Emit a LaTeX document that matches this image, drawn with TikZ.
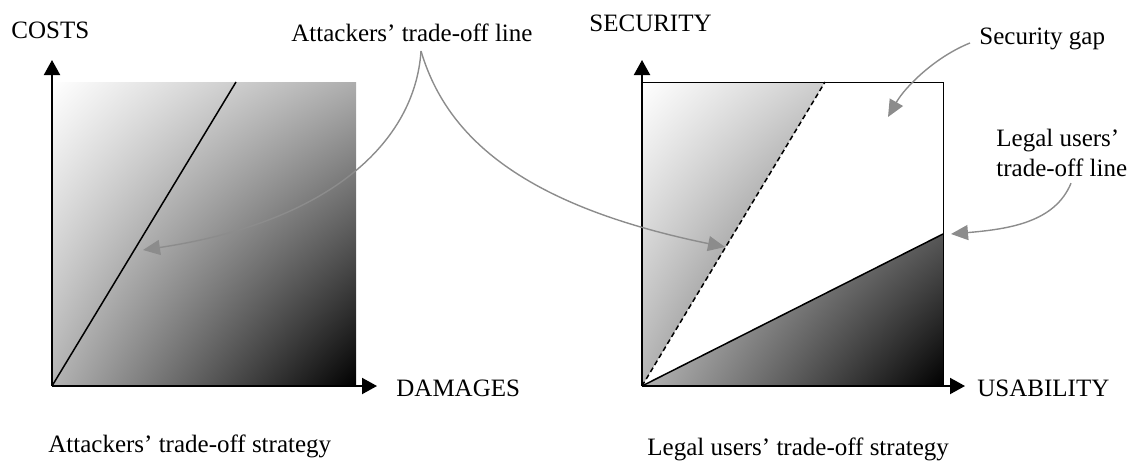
\documentclass[tikz,border=0pt]{standalone}
\usepackage{fontspec}
\setmainfont{Liberation Serif}
\usetikzlibrary{arrows.meta,shadings}

\begin{document}
\begin{tikzpicture}[x=0.5pt,y=0.5pt,
      axis/.style={line width=1pt,-{Triangle[length=7.5pt,width=8pt]}},
      pointer/.style={draw=black!45,line width=0.7pt,-{Triangle[length=8.5pt,width=7.5pt]}},
      label/.style={inner sep=0pt,anchor=west,font=\fontsize{12.5}{15}\selectfont},
      corners/.style={upper left=white,upper right=black!32,lower left=black!30,lower right=black},
      tradeline/.style={line width=0.75pt},
      dashline/.style={line width=0.75pt,dash pattern=on 2.5pt off 1.6pt}]
  \useasboundingbox (0,0) rectangle (1133,462);

  % attackers
  \coordinate (lo) at (52,76);
  \coordinate (ly) at (52,402);
  \coordinate (lx) at (377,76);
  \coordinate (ltop) at (236,380);
  \shade[corners] (lo) rectangle (356,380);
  \draw[tradeline] (lo) -- (ltop);
  \draw[axis] (lo) -- (ly);
  \draw[axis] (lo) -- (lx);

  % legal users
  \coordinate (ro) at (642,76);
  \coordinate (ry) at (642,402);
  \coordinate (rx) at (965,76);
  \coordinate (rtl) at (642,380);
  \coordinate (rbr) at (943,76);
  \coordinate (dtop) at (825,380);
  \coordinate (uend) at (943,228);
  \begin{scope}
    \clip (ro) -- (rtl) -- (dtop) -- cycle;
    \shade[corners] (ro) rectangle (943,380);
  \end{scope}
  \begin{scope}
    \clip (ro) -- (rbr) -- (uend) -- cycle;
    \shade[corners] (ro) rectangle (943,380);
  \end{scope}
  \draw[line width=0.5pt] (ro) rectangle (943,380);
  \draw[dashline] (ro) -- (dtop);
  \draw[tradeline] (ro) -- (uend);
  \draw[axis] (ro) -- (ry);
  \draw[axis] (ro) -- (rx);

  % labels
  \node[label] (costs) at (11,432) {COSTS};
  \node[label] (damages) at (396,74) {DAMAGES};
  \node[label] (astrat) at (48,16) {Attackers’ trade-off strategy};
  \node[label] (security) at (589,439) {SECURITY};
  \node[label] (usability) at (977,74) {USABILITY};
  \node[label] (ustrat) at (647,13) {Legal users’ trade-off strategy};
  \node[label] (aline) at (291,429) {Attackers’ trade-off line};
  \node[label] (gap) at (979,423) {Security gap};
  \node[label,align=left] (uline) at (996,309) {Legal users’\\trade-off line};

  % pointers
  \coordinate (cusp) at (421,411);
  \coordinate (ltip) at (143,212);
  \coordinate (rtip) at (725,215);
  \coordinate (gtip) at (888,345);
  \coordinate (utip) at (951,228);
  \draw[pointer] (cusp) .. controls (415,320) and (330,240) .. (ltip);
  \draw[pointer] (cusp) .. controls (445,330) and (515,258) .. (rtip);
  \draw[pointer] ([xshift=-4.5pt,yshift=-2pt]gap.west) .. controls (935,405) and (905,375) .. (gtip);
  \draw[pointer] ([xshift=37.5pt,yshift=-3pt]uline.south west) .. controls (1055,240) and (1010,233) .. (utip);
\end{tikzpicture}
\end{document}
